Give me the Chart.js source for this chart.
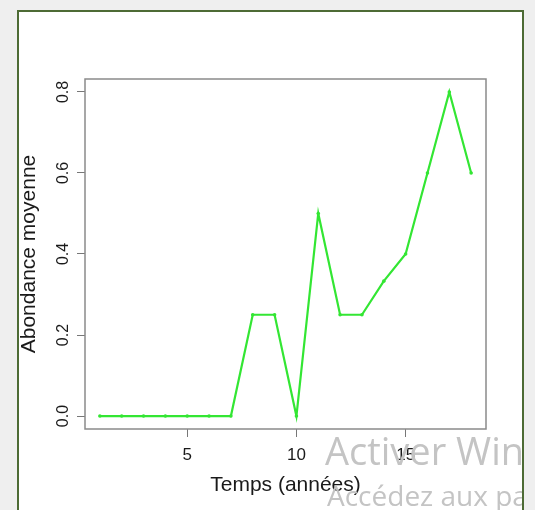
<!DOCTYPE html>
<html>
<head>
<meta charset="utf-8">
<script src="https://cdn.jsdelivr.net/npm/chart.js@4/dist/chart.umd.min.js"></script>
<style>
  html, body { margin:0; padding:0; }
  body { width:535px; height:510px; background:#efefef; position:relative; overflow:hidden; }
  #frame { position:absolute; left:17px; top:10px; width:503px; height:520px; background:#fff;
           border:2px solid #4d6b35; }
  #chart { position:absolute; left:0; top:0; }
  #wm { position:absolute; left:0; top:0; width:522px; height:510px; overflow:hidden; pointer-events:none; }
  .wm { position:absolute; white-space:nowrap; font-family:"Open Sans", sans-serif; color:#c4c4c4; line-height:1; }
</style>
</head>
<body>
<div id="frame"></div>
<canvas id="chart" width="535" height="510"></canvas>
<div id="wm">
  <div class="wm" style="left:325px; top:431px; font-size:38px;">Activer Windows</div>
  <div class="wm" style="left:327px; top:481px; font-size:28px;">Accédez aux paramètres</div>
</div>
<script>
// Données
const annees = [1,2,3,4,5,6,7,8,9,10,11,12,13,14,15,16,17,18];
const abondance = [0,0,0,0,0,0,0,0.25,0.25,0,0.5,0.25,0.25,0.333,0.4,0.6,0.8,0.6];
const xTicks = [5,10,15];
const yTicks = [0,0.2,0.4,0.6,0.8];

const vert = '#33e633';
const txt = '#1a1a1a';
const police = '"Liberation Sans", Arial, sans-serif';

// cadre autour de la zone de tracé + étiquettes verticales de l'axe y (style R)
const boxPlugin = {
  id:'box',
  afterDraw(chart){
    const {ctx, chartArea:a} = chart;
    ctx.save();
    ctx.strokeStyle = '#8a8a8a';
    ctx.lineWidth = 1.5;
    ctx.strokeRect(a.left, a.top, a.right-a.left, a.bottom-a.top);
    const ys = chart.scales.y;
    ctx.fillStyle = txt;
    ctx.font = '16px ' + police;
    ctx.textAlign = 'center';
    ctx.textBaseline = 'middle';
    ys.ticks.forEach(t=>{
      const py = ys.getPixelForValue(t.value);
      ctx.save();
      ctx.translate(64, py);
      ctx.rotate(-Math.PI/2);
      ctx.fillText(t.value.toFixed(1), 0, 0);
      ctx.restore();
    });
    ctx.restore();
  }
};

new Chart(document.getElementById('chart'), {
  type:'line',
  data:{
    datasets:[{
      data: annees.map((a,i)=>({x:a, y:abondance[i]})),
      borderColor: vert,
      backgroundColor: vert,
      borderWidth: 2.2,
      pointRadius: 1.8,
      pointBorderWidth: 0,
      tension: 0
    }]
  },
  options:{
    responsive:false,
    animation:false,
    layout:{ padding:{ left:0, top:79, right:49, bottom:0 } },
    plugins:{ legend:{display:false}, tooltip:{enabled:false} },
    scales:{
      x:{
        type:'linear', min:0.32, max:18.68,
        afterBuildTicks: s => { s.ticks = xTicks.map(v=>({value:v})); },
        afterFit: s => { s.height = 81; },
        grid:{ drawOnChartArea:false, drawTicks:true, tickLength:8, color:'#777', lineWidth:1 },
        border:{ display:false },
        ticks:{ color:txt, padding:8, font:{ family:police, size:17 } },
        title:{ display:true, text:'Temps (années)', color:txt, padding:{top:0, bottom:12},
                font:{ family:police, size:21 } }
      },
      y:{
        min:-0.032, max:0.832,
        afterBuildTicks: s => { s.ticks = yTicks.map(v=>({value:v})); },
        afterFit: s => { s.width = 85; },
        grid:{ drawOnChartArea:false, drawTicks:true, tickLength:8, color:'#777', lineWidth:1 },
        border:{ display:false },
        ticks:{ color:'rgba(0,0,0,0)', font:{ size:16 } },
        title:{ display:true, text:'Abondance moyenne', color:txt, padding:{top:17, bottom:0},
                font:{ family:police, size:21 } }
      }
    }
  },
  plugins:[boxPlugin]
});
</script>
</body>
</html>
